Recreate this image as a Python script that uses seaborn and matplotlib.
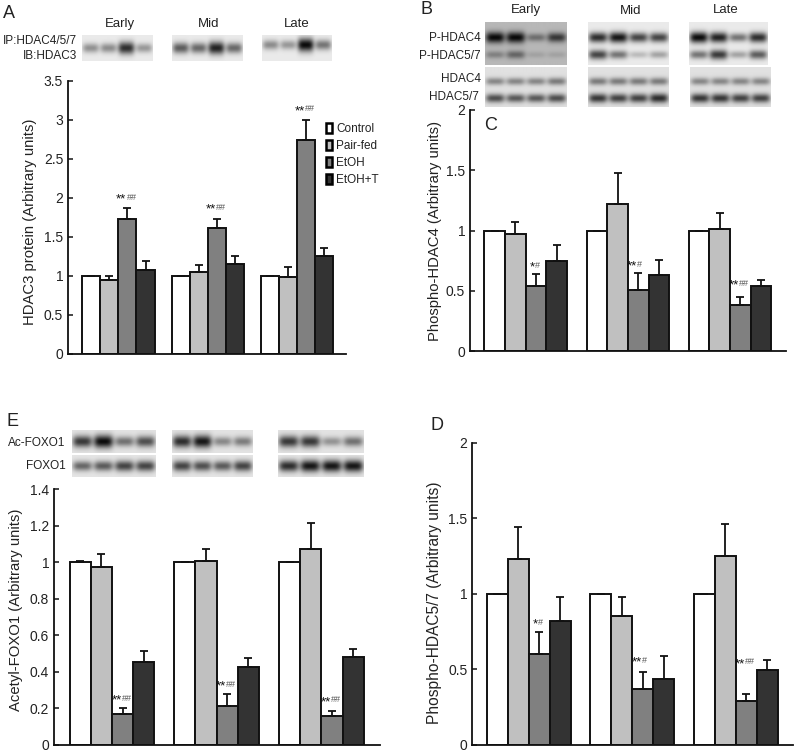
import numpy as np
import pandas as pd
import matplotlib
matplotlib.use('Agg')
import matplotlib.pyplot as plt
from matplotlib.patches import Patch
import seaborn as sns

W, H = 797, 755

stages = ['Early', 'Mid', 'Late']
groups = ['Control', 'Pair-fed', 'EtOH', 'EtOH+T']
colors = ['#FFFFFF', '#C0C0C0', '#808080', '#333333']

# bar heights and top of the error bar, one list per group (Early, Mid, Late)
a_vals = [[1, 1, 1], [0.945, 1.05, 0.99], [1.725, 1.61, 2.74], [1.07, 1.155, 1.25]]
a_tops = [[1, 1, 1], [1.0, 1.135, 1.11], [1.87, 1.73, 3.0], [1.19, 1.254, 1.353]]
a_sig = ['**##', '**##', '**##']
a_ticks = ['0', '0.5', '1', '1.5', '2', '2.5', '3', '3.5']
a_tickvals = [0, 0.5, 1, 1.5, 2, 2.5, 3, 3.5]

c_vals = [[1, 1, 1], [0.97, 1.223, 1.01], [0.545, 0.51, 0.385], [0.745, 0.635, 0.545]]
c_tops = [[1, 1, 1], [1.07, 1.477, 1.15], [0.64, 0.65, 0.45], [0.885, 0.76, 0.59]]
c_sig = ['*#', '**#', '**##']
d_vals = [[1, 1, 1], [1.231, 0.852, 1.247], [0.603, 0.369, 0.291], [0.82, 0.435, 0.497]]
d_tops = [[1, 1, 1], [1.44, 0.976, 1.46], [0.746, 0.479, 0.336], [0.976, 0.589, 0.558]]
d_sig = ['*#', '**#', '**##']
two_ticks = ['0', '0.5', '1', '1.5', '2']
two_tickvals = [0, 0.5, 1, 1.5, 2]

e_vals = [[1, 1, 1], [0.976, 1.007, 1.071], [0.167, 0.214, 0.159], [0.455, 0.428, 0.48]]
e_tops = [[1.005, 1, 1], [1.047, 1.073, 1.214], [0.2, 0.28, 0.185], [0.514, 0.473, 0.526]]
e_sig = ['**##', '**##', '**##']
e_ticks = ['0', '0.2', '0.4', '0.6', '0.8', '1', '1.2', '1.4']
e_tickvals = [0, 0.2, 0.4, 0.6, 0.8, 1, 1.2, 1.4]

# band darkness on the blots, one list per row of a strip
a_blots = [[0.38, 0.4, 0.8, 0.35], [0.6, 0.55, 0.85, 0.55], [0.4, 0.35, 0.95, 0.5]]
b_top = [[[0.95, 0.95, 0.4, 0.7], [0.3, 0.45, 0.12, 0.12]],
         [[0.8, 0.9, 0.7, 0.7], [0.7, 0.5, 0.2, 0.3]],
         [[0.95, 0.85, 0.5, 0.8], [0.5, 0.75, 0.3, 0.6]]]
b_low = [[[0.4, 0.4, 0.4, 0.45], [0.65, 0.6, 0.6, 0.65]],
         [[0.45, 0.45, 0.45, 0.45], [0.75, 0.7, 0.7, 0.8]],
         [[0.4, 0.4, 0.4, 0.4], [0.75, 0.75, 0.7, 0.7]]]
e_top = [[0.75, 0.95, 0.5, 0.65], [0.8, 0.9, 0.4, 0.45], [0.75, 0.75, 0.35, 0.5]]
e_low = [[0.55, 0.6, 0.7, 0.7], [0.7, 0.65, 0.6, 0.7], [0.8, 0.9, 0.9, 0.9]]


def px(x, y):
    return x / W, 1 - y / H


def draw_blot(x0, y0, x1, y1, bg, rows, rowpos, thick=0.09):
    ax = fig.add_axes([x0 / W, 1 - y1 / H, (x1 - x0) / W, (y1 - y0) / H])
    h, w = int(y1 - y0) * 2, int(x1 - x0) * 2
    yy, xx = np.mgrid[0:h, 0:w]
    yy = (yy + 0.5) / h
    xx = (xx + 0.5) / w
    img = np.full((h, w), float(bg))
    for row, yc in zip(rows, rowpos):
        for i, d in enumerate(row):
            cx = (i + 0.5) / len(row)
            band = np.exp(-((xx - cx) / 0.115) ** 4) * np.exp(-((yy - yc) / (thick * (0.6 + 0.6 * d))) ** 2)
            img -= d * band * bg
    ax.imshow(np.clip(img, 0, 1), cmap='gray', vmin=0, vmax=1, aspect='auto')
    ax.axis('off')


def draw_panel(rect, xlim, ymax, vals, tops, sig, sig_off, ticks, tickvals, label, label_pos, label_size=10.7):
    # rect is left, top, right, bottom of the axes in pixels
    left, top, right, bottom = rect
    ax = fig.add_axes([left / W, 1 - bottom / H, (right - left) / W, (bottom - top) / H])
    rows = []
    for g, series in zip(groups, vals):
        for s, v in zip(stages, series):
            rows.append({'stage': s, 'group': g, 'value': v})
    df = pd.DataFrame(rows)
    sns.barplot(data=df, x='stage', y='value', hue='group', order=stages, hue_order=groups,
                palette=colors, saturation=1, width=0.81, gap=0, errorbar=None,
                edgecolor='#111111', linewidth=1.4, legend=False, ax=ax)
    bars = ax.patches
    for i, b in enumerate(bars):
        g, s = i // 3, i % 3
        cx = b.get_x() + b.get_width() / 2
        up = tops[g][s] - vals[g][s]
        ax.errorbar(cx, vals[g][s], yerr=[[0], [up]], color='#111111', elinewidth=1.3,
                    capsize=2.8, capthick=1.3, zorder=1)
        if g == 2:
            stars = sig[s].count('*')
            ax.annotate('*' * stars, (cx, tops[g][s]), xytext=(-1, sig_off[s] - 2),
                        textcoords='offset pixels', ha='right', va='center',
                        fontsize=9.5, color='#111111')
            ax.annotate('#' * (len(sig[s]) - stars), (cx, tops[g][s]), xytext=(-1, sig_off[s]),
                        textcoords='offset pixels', ha='left', va='center',
                        fontsize=6.5, color='#555555')
    ax.set_xlim(*xlim)
    ax.set_ylim(0, ymax)
    ax.set_xticks([])
    ax.set_yticks(tickvals)
    ax.set_yticklabels(ticks)
    ax.set_xlabel('')
    ax.tick_params(axis='y', direction='in', length=3.5, width=1.2, labelsize=10,
                   left=True, pad=3.5, labelcolor='#222222')
    for side in ['top', 'right']:
        ax.spines[side].set_visible(False)
    for side in ['left', 'bottom']:
        ax.spines[side].set_color('#111111')
        ax.spines[side].set_linewidth(1.3)
    ax.patch.set_alpha(0)
    ax.set_ylabel(label, fontsize=label_size, color='#222222')
    ax.yaxis.set_label_coords(*px(*label_pos), transform=fig.transFigure)
    return ax


sns.set_theme(style='white')
plt.rcParams['font.family'] = ['Liberation Sans', 'DejaVu Sans']

fig = plt.figure(figsize=(W / 100, H / 100), dpi=100)

# panel A
ax_a = draw_panel((68, 81, 346, 353.7), (-0.565, 2.55), 3.5, a_vals, a_tops, a_sig, (11, 11, 11),
                  a_ticks, a_tickvals, 'HDAC3 protein (Arbitrary units)', (37, 222))
handles = [Patch(facecolor=c, edgecolor='black', linewidth=1.8) for c in colors]
ax_a.legend(handles, groups, loc='upper left', bbox_to_anchor=px(320, 117),
            bbox_transform=fig.transFigure, frameon=False, fontsize=8.5,
            handlelength=0.55, handleheight=0.95, handletextpad=0.3, labelspacing=0.42,
            borderpad=0, labelcolor='#222222')

# panel C and D
draw_panel((470, 110, 786, 351.3), (-0.545, 2.547), 2, c_vals, c_tops, c_sig, (9, 8, 14),
           two_ticks, two_tickvals, 'Phospho-HDAC4 (Arbitrary units)', (442, 231))
draw_panel((472.3, 442.7, 793, 744.7), (-0.545, 2.554), 2, d_vals, d_tops, d_sig, (10, 12, 32),
           two_ticks, two_tickvals, 'Phospho-HDAC5/7 (Arbitrary units)', (442, 603), label_size=11.2)

# panel E
draw_panel((54, 489.3, 380, 744.7), (-0.554, 2.56), 1.4, e_vals, e_tops, e_sig, (10, 9, 11),
           e_ticks, e_tickvals, 'Acetyl-FOXO1 (Arbitrary units)', (23, 610))

# blots
for (x0, x1, yc), row in zip([(82, 153, 0.5), (172, 243, 0.5), (262, 332, 0.38)], a_blots):
    draw_blot(x0, 35, x1, 61, 0.92, [row], [yc], thick=0.22)
for (x0, x1, bg), rows in zip([(485, 566, 0.72), (588, 669, 0.92), (689, 768, 0.92)], b_top):
    draw_blot(x0, 22, x1, 65, bg, rows, [0.36, 0.76], thick=0.11)
for (x0, x1), rows in zip([(485, 566), (588, 669), (690, 771)], b_low):
    draw_blot(x0, 67, x1, 107, 0.88, rows, [0.36, 0.78], thick=0.11)
for (x0, x1), r1, r2 in zip([(72, 156), (172, 253), (278, 364)], e_top, e_low):
    draw_blot(x0, 430, x1, 453, 0.89, [r1], [0.5], thick=0.24)
    draw_blot(x0, 455, x1, 477, 0.9, [r2], [0.5], thick=0.24)

# column headings and blot labels
text_kw = dict(fontsize=9.5, color='#222222', va='center')
for s, x, y in zip(stages, [120, 209, 297], [24, 24, 24]):
    fig.text(*px(x, y), s, ha='center', **text_kw)
for s, x, y in zip(stages, [526, 631, 726], [10, 11, 10]):
    fig.text(*px(x, y), s, ha='center', **text_kw)
blot_labels = ['IP:HDAC4/5/7', 'IB:HDAC3', 'P-HDAC4', 'P-HDAC5/7', 'HDAC4', 'HDAC5/7', 'Ac-FOXO1', 'FOXO1']
blot_label_x = [77, 77, 481, 481, 481, 479, 65, 66]
blot_label_y = [41, 56, 38, 56, 79, 97, 443, 466]
for s, x, y in zip(blot_labels, blot_label_x, blot_label_y):
    fig.text(*px(x, y), s, ha='right', fontsize=8.5, color='#222222', va='center')

# panel letters
panel_letters = ['A', 'B', 'C', 'E', 'D']
letter_x = [3, 420, 484, 6, 430]
letter_y = [14, 9, 125, 421, 425]
for s, x, y in zip(panel_letters, letter_x, letter_y):
    fig.text(*px(x, y), s, fontsize=13, color='#222222', va='center')

fig.savefig('out.png', dpi=100)
